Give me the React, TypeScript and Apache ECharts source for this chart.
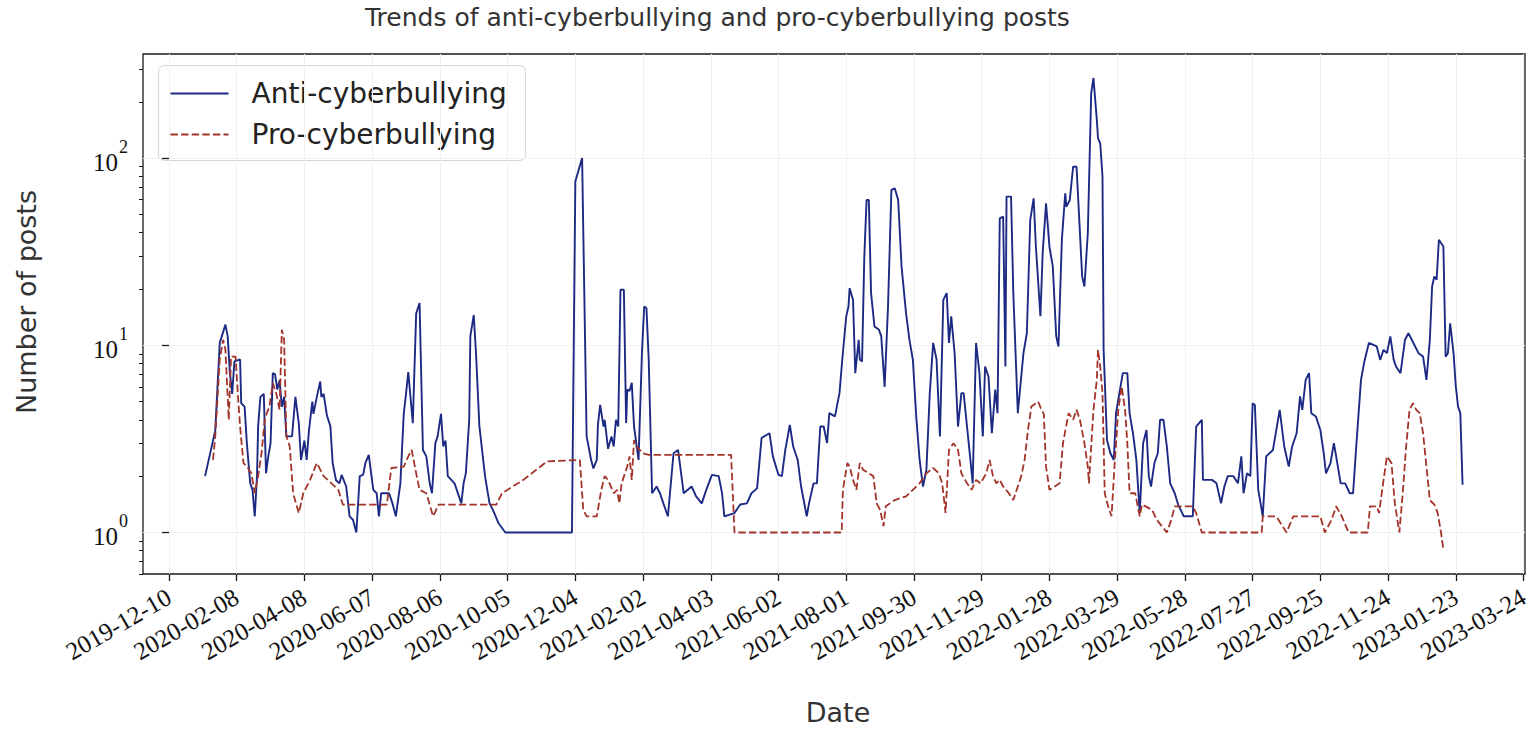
import React, { useEffect, useRef } from "react";
import * as echarts from "echarts";

// x tick labels (every 60 days)
const tickLabels = [
  "2019-12-10", "2020-02-08", "2020-04-08", "2020-06-07", "2020-08-06",
  "2020-10-05", "2020-12-04", "2021-02-02", "2021-04-03", "2021-06-02",
  "2021-08-01", "2021-09-30", "2021-11-29", "2022-01-28", "2022-03-29",
  "2022-05-28", "2022-07-27", "2022-09-25", "2022-11-24", "2023-01-23",
  "2023-03-24",
];

// y ticks (log scale)
const yMajorTicks = [1, 10, 100];
const yMinorTicks = [0.6, 0.7, 0.8, 0.9, 2, 3, 4, 5, 6, 7, 8, 9, 20, 30, 40, 50, 60, 70, 80, 90, 200, 300];

const seriesNames = ["Anti-cyberbullying", "Pro-cyberbullying"];

// Anti-cyberbullying: day (days since 2019-12-10) and number of posts
const antiDays = [
  32, 41, 45, 50, 52, 54, 56, 58, 63, 64, 67, 69, 72, 74, 76, 78, 79, 81, 84, 86,
  88, 90, 92, 94, 96, 98, 100, 102, 104, 109, 112, 115, 117, 120, 122, 124, 127, 128, 131, 134,
  135, 137, 140, 143, 145, 148, 151, 153, 157, 160, 163, 166, 169, 172, 174, 177, 181, 184, 186, 188,
  195, 198, 201, 205, 208, 210, 212, 216, 219, 222, 225, 228, 231, 233, 236, 238, 241, 243, 245, 247,
  253, 259, 261, 263, 266, 267, 270, 272, 275, 280, 284, 287, 292, 298, 357, 360, 366, 370, 374, 376,
  379, 380, 382, 385, 386, 389, 392, 394, 396, 398, 400, 403, 405, 406, 408, 410, 412, 414, 416, 419,
  421, 423, 425, 428, 432, 435, 438, 442, 447, 451, 456, 463, 467, 472, 476, 481, 487, 490, 492, 501,
  506, 512, 516, 521, 525, 532, 535, 540, 543, 546, 550, 553, 557, 560, 565, 567, 571, 574, 577, 580,
  583, 585, 590, 594, 597, 600, 602, 603, 606, 608, 611, 612, 614, 616, 618, 620, 622, 625, 629, 631,
  634, 637, 640, 643, 646, 649, 653, 656, 659, 662, 665, 668, 671, 674, 677, 680, 683, 686, 689, 691,
  693, 696, 699, 702, 704, 707, 710, 712, 715, 718, 721, 723, 726, 729, 732, 734, 736, 739, 741, 742,
  746, 748, 752, 757, 760, 763, 766, 768, 772, 774, 777, 780, 783, 786, 788, 791, 794, 795, 798, 801,
  804, 806, 809, 811, 814, 817, 819, 822, 823, 825, 827, 828, 831, 834, 837, 839, 842, 845, 849, 851,
  854, 857, 860, 863, 866, 868, 870, 873, 876, 878, 881, 884, 887, 891, 894, 899, 907, 910, 915, 916,
  924, 928, 932, 935, 938, 943, 947, 950, 952, 955, 958, 960, 962, 965, 969, 972, 978, 981, 984, 988,
  992, 995, 999, 1002, 1004, 1007, 1010, 1012, 1016, 1020, 1023, 1025, 1029, 1032, 1034, 1038, 1042, 1046, 1049, 1052,
  1056, 1059, 1063, 1070, 1073, 1076, 1079, 1082, 1085, 1087, 1091, 1095, 1098, 1101, 1104, 1107, 1111, 1114, 1117, 1119,
  1121, 1123, 1125, 1129, 1131, 1133, 1135, 1138, 1140, 1142, 1144, 1146,
];
const antiPosts = [
  2.0, 3.5, 10.3, 12.9, 11.2, 7.1, 5.5, 8.2, 8.4, 4.9, 4.7, 3.0, 1.83, 1.69, 1.22, 2.0, 3.7, 5.3, 5.5, 2.07,
  2.55, 3.0, 7.1, 7.0, 5.8, 6.5, 4.7, 5.3, 3.26, 3.26, 5.3, 3.84, 2.44, 3.1, 2.44, 3.5, 5.0, 4.3, 5.3, 6.4,
  5.3, 5.5, 4.2, 3.7, 2.35, 1.9, 1.83, 2.03, 1.76, 1.22, 1.17, 1.0, 2.0, 2.03, 2.35, 2.6, 1.69, 1.62, 1.22, 1.62,
  1.62, 1.43, 1.22, 1.83, 4.3, 5.5, 7.2, 3.84, 14.8, 16.8, 2.76, 2.55, 1.83, 1.62, 3.0, 3.26, 4.3, 2.88, 3.1, 2.0,
  1.83, 1.43, 1.83, 2.07, 4.0, 11.2, 14.5, 9.1, 3.7, 2.0, 1.43, 1.32, 1.12, 1.0, 1.0, 75, 100, 3.26, 2.44, 2.2,
  2.44, 3.76, 4.8, 3.68, 4.0, 2.8, 3.26, 2.88, 4.0, 3.68, 19.8, 19.8, 3.84, 5.8, 5.7, 6.3, 3.68, 3.0, 2.44, 9.1,
  16.1, 15.8, 8.4, 1.62, 1.76, 1.62, 1.43, 1.22, 2.65, 2.76, 1.62, 1.76, 1.56, 1.43, 1.69, 2.03, 2.0, 1.62, 1.22, 1.27,
  1.41, 1.43, 1.62, 1.72, 3.2, 3.39, 2.55, 2.03, 2.0, 2.76, 3.76, 2.88, 2.44, 1.76, 1.22, 1.43, 1.83, 1.83, 3.68, 3.68,
  3.0, 4.34, 4.17, 5.55, 9.1, 14.3, 16.1, 20.2, 17.5, 7.1, 10.7, 8.4, 8.2, 29.8, 59.7, 59.7, 19.0, 12.6, 12.1, 11.2,
  6.0, 16.1, 67.6, 69, 59.7, 26.3, 14.8, 10.7, 8.4, 4.17, 2.44, 1.76, 2.16, 5.55, 10.3, 8.4, 3.26, 17.5, 19.0, 10.3,
  14.3, 9.1, 3.68, 5.55, 5.55, 3.68, 2.44, 1.83, 10.3, 7.1, 3.26, 7.7, 6.8, 3.39, 5.8, 4.34, 47.7, 48.7, 7.7, 62.3,
  62.3, 19, 4.34, 9.1, 11.6, 46.8, 61, 33.7, 14.3, 31, 57.3, 33.7, 26.3, 11.2, 9.86, 36.6, 64.9, 55, 59.7, 90,
  90, 52.8, 23.3, 20.6, 39.7, 222, 268, 160, 128, 120, 80, 9.5, 3.12, 2.65, 2.44, 4.34, 5.55, 7.1, 7.1, 4.34,
  3.39, 2.44, 1.27, 3.0, 3.53, 2.0, 1.76, 2.35, 2.65, 4.0, 4.0, 2.88, 1.83, 1.62, 1.41, 1.22, 1.22, 3.68, 4.0, 1.91,
  1.91, 1.83, 1.43, 1.76, 2.0, 2.0, 1.83, 2.55, 1.62, 2.07, 2.0, 4.9, 4.8, 1.69, 1.22, 2.55, 2.76, 3.53, 4.52, 2.88,
  2.25, 2.88, 3.39, 5.33, 4.52, 6.54, 7.1, 4.34, 4.17, 3.53, 2.65, 2.07, 2.35, 3.0, 2.55, 1.83, 1.83, 1.62, 1.62, 3.0,
  6.54, 8.2, 10.3, 9.86, 8.36, 9.46, 9.08, 11.15, 8.36, 7.7, 7.1, 10.7, 11.6, 10.7, 9.86, 9.08, 8.71, 6.54, 10.7, 20.6,
  23.3, 22.4, 36.6, 33.7, 8.7, 9.08, 13.1, 9.08, 6.03, 4.71, 4.34, 1.8,
];

// Pro-cyberbullying: day (days since 2019-12-10) and number of posts
const proDays = [
  39, 41, 45, 48, 50, 53, 55, 59, 61, 63, 66, 69, 73, 76, 79, 82, 85, 89, 92, 95,
  98, 100, 102, 104, 107, 110, 115, 119, 125, 131, 137, 144, 150, 154, 193, 197, 208, 212, 215, 219,
  222, 228, 234, 239, 290, 295, 314, 335, 364, 367, 370, 379, 383, 386, 389, 394, 397, 399, 401, 406,
  408, 410, 412, 414, 420, 425, 498, 501, 596, 597, 601, 603, 606, 609, 612, 615, 620, 624, 627, 630,
  633, 635, 643, 653, 659, 665, 671, 677, 682, 685, 688, 691, 695, 699, 702, 707, 711, 715, 719, 724,
  727, 730, 733, 736, 739, 744, 748, 752, 755, 758, 761, 764, 770, 773, 775, 777, 780, 789, 792, 797,
  801, 804, 807, 811, 814, 815, 819, 822, 823, 825, 827, 829, 832, 835, 838, 841, 844, 847, 849, 851,
  856, 860, 862, 871, 875, 884, 888, 891, 907, 910, 915, 968, 969, 981, 990, 996, 1020, 1024, 1030, 1034,
  1039, 1045, 1062, 1064, 1070, 1072, 1076, 1079, 1083, 1086, 1090, 1093, 1096, 1099, 1102, 1105, 1108, 1111, 1114, 1117,
  1121, 1124, 1127, 1129,
];
const proPosts = [
  2.44, 3.26, 8.4, 10.7, 9.5, 4.0, 8.7, 8.7, 5.5, 3.68, 2.35, 2.25, 2.07, 1.62, 2.0, 2.65, 4.08, 4.71, 6.28, 5.55,
  4.52, 12.1, 10.7, 3.26, 2.88, 1.62, 1.27, 1.62, 1.91, 2.35, 2.0, 1.83, 1.69, 1.41, 1.41, 2.21, 2.25, 2.55, 2.76, 2.07,
  1.69, 1.62, 1.22, 1.41, 1.41, 1.62, 1.91, 2.4, 2.44, 1.32, 1.22, 1.22, 1.69, 2.0, 1.91, 1.62, 1.69, 1.43, 1.83, 2.25,
  2.55, 1.91, 3.12, 2.88, 2.65, 2.6, 2.6, 1.0, 1.0, 1.69, 2.35, 2.25, 1.91, 1.69, 2.35, 2.16, 2.07, 2.0, 1.43, 1.32,
  1.08, 1.38, 1.49, 1.56, 1.69, 1.83, 2.07, 2.21, 2.07, 1.83, 1.27, 2.76, 3.0, 2.76, 2.07, 1.83, 1.69, 1.91, 1.83, 2.07,
  2.44, 2.0, 1.83, 1.91, 1.76, 1.62, 1.49, 1.76, 2.0, 2.44, 3.53, 4.71, 5.0, 4.52, 4.3, 2.25, 1.69, 1.83, 3.0, 4.34,
  4.0, 4.52, 4.0, 3.0, 2.25, 1.83, 4.52, 6.54, 9.46, 7.7, 5.55, 1.62, 1.38, 1.22, 2.44, 4.52, 6.03, 4.52, 3.0, 1.62,
  1.62, 1.22, 1.41, 1.32, 1.17, 1.0, 1.17, 1.38, 1.38, 1.27, 1.0, 1.0, 1.22, 1.22, 1.0, 1.22, 1.22, 1.0, 1.17, 1.38,
  1.22, 1.0, 1.0, 1.38, 1.38, 1.27, 1.91, 2.55, 2.35, 1.43, 1.0, 1.62, 2.88, 4.52, 4.91, 4.52, 4.34, 3.39, 2.25, 1.49,
  1.41, 1.27, 0.99, 0.81,
];

const SERIF = "'Liberation Serif', 'Times New Roman', serif";
const SANS = "'DejaVu Sans', 'Liberation Sans', sans-serif";
const ANTI_COLOR = "#1d2a84";
const PRO_COLOR = "#a3342a";
const PRO_DASH = [7.4, 3.2];

export default function App() {
  const ref = useRef<HTMLDivElement>(null);

  useEffect(() => {
    if (!ref.current) return;
    const chart = echarts.init(ref.current, null, { renderer: "svg" });
    const day0 = Date.parse(tickLabels[0]);
    const tickDays = tickLabels.map((d) => Math.round((Date.parse(d) - day0) / 86400000));

    const legendGraphic = {
      type: "group",
      left: 158,
      top: 65,
      z: 100,
      children: [
        {
          type: "rect",
          shape: { x: 0, y: 0, width: 367, height: 95, r: 6 },
          style: { fill: "rgba(255,255,255,0.85)", stroke: "#d6d6d6", lineWidth: 1 },
        },
        {
          type: "line",
          shape: { x1: 12, y1: 28, x2: 70, y2: 28 },
          style: { stroke: ANTI_COLOR, lineWidth: 1.9 },
        },
        {
          type: "line",
          shape: { x1: 12, y1: 69, x2: 70, y2: 69 },
          style: { stroke: PRO_COLOR, lineWidth: 1.8, lineDash: PRO_DASH },
        },
        {
          type: "text",
          x: 93,
          y: 28,
          style: { text: seriesNames[0], fontFamily: SANS, fontSize: 28, fill: "#222", verticalAlign: "middle" },
        },
        {
          type: "text",
          x: 93,
          y: 69,
          style: { text: seriesNames[1], fontFamily: SANS, fontSize: 28, fill: "#222", verticalAlign: "middle" },
        },
      ],
    };

    const option = {
      animation: false,
      backgroundColor: "#ffffff",
      grid: {
        left: 143,
        right: 11,
        top: 54,
        bottom: 156,
        show: true,
        borderColor: "#1a1a1a",
        borderWidth: 1.3,
        backgroundColor: "transparent",
        containLabel: false,
        outerBoundsMode: "none",
      },
      xAxis: {
        type: "value",
        min: -23,
        max: 1201.3,
        axisLine: { show: false },
        axisTick: {
          show: true,
          customValues: tickDays,
          length: 7,
          lineStyle: { color: "#1a1a1a", width: 1.3 },
        },
        axisLabel: {
          customValues: tickDays,
          rotate: 30,
          margin: 21,
          fontFamily: SERIF,
          fontSize: 25,
          color: "#111",
          formatter: (v: number) => {
            const i = tickDays.indexOf(Math.round(v));
            return i >= 0 ? tickLabels[i] : "";
          },
        },
        splitLine: { show: true, lineStyle: { color: "#f1f1f1", width: 1 } },
      },
      yAxis: [
        {
          type: "log",
          logBase: 10,
          min: 0.6,
          max: 360,
          axisLine: { show: false },
          axisTick: {
            show: true,
            customValues: yMajorTicks,
            length: 7,
            lineStyle: { color: "#1a1a1a", width: 1.3 },
          },
          axisLabel: {
            customValues: yMajorTicks,
            margin: 15,
            formatter: (v: number) => `{b|10}{s|${Math.round(Math.log10(v))}}`,
            rich: {
              b: { fontFamily: SERIF, fontSize: 25, lineHeight: 25, color: "#111", padding: [9, 0, 0, 0], verticalAlign: "middle" },
              s: { fontFamily: SERIF, fontSize: 18, lineHeight: 18, color: "#111", padding: [0, 0, 22, 1], verticalAlign: "middle" },
            },
          },
          splitLine: { show: true, lineStyle: { color: "#f1f1f1", width: 1 } },
        },
        {
          type: "log",
          logBase: 10,
          min: 0.6,
          max: 360,
          position: "left",
          axisLine: { show: false },
          axisTick: {
            show: true,
            customValues: yMinorTicks,
            length: 4,
            lineStyle: { color: "#1a1a1a", width: 1 },
          },
          axisLabel: { show: false },
          splitLine: { show: false },
        },
      ],
      graphic: [
        {
          type: "text",
          left: 365,
          top: 5,
          style: {
            text: "Trends of anti-cyberbullying and pro-cyberbullying posts",
            fontFamily: SANS,
            fontSize: 25,
            fill: "#333",
          },
        },
        {
          type: "text",
          x: 26,
          y: 302,
          rotation: Math.PI / 2,
          style: {
            text: "Number of posts",
            fontFamily: SANS,
            fontSize: 27,
            fill: "#333",
            align: "center",
            verticalAlign: "middle",
          },
        },
        {
          type: "text",
          x: 838,
          y: 712,
          style: {
            text: "Date",
            fontFamily: SANS,
            fontSize: 27,
            fill: "#333",
            align: "center",
            verticalAlign: "middle",
          },
        },
        legendGraphic,
      ],
      series: [
        {
          name: seriesNames[0],
          type: "line",
          xAxisIndex: 0,
          yAxisIndex: 0,
          data: antiDays.map((d, i) => [d, antiPosts[i]]),
          showSymbol: false,
          symbol: "none",
          lineStyle: { color: ANTI_COLOR, width: 1.9 },
          itemStyle: { color: ANTI_COLOR },
          z: 3,
        },
        {
          name: seriesNames[1],
          type: "line",
          xAxisIndex: 0,
          yAxisIndex: 0,
          data: proDays.map((d, i) => [d, proPosts[i]]),
          showSymbol: false,
          symbol: "none",
          lineStyle: { color: PRO_COLOR, width: 1.8, type: PRO_DASH },
          itemStyle: { color: PRO_COLOR },
          z: 4,
        },
      ],
    };

    chart.setOption(option as any);
    return () => chart.dispose();
  }, []);

  return (
    <div
      ref={ref}
      style={{ position: "absolute", left: 0, top: 0, width: 1536, height: 730 }}
    />
  );
}
